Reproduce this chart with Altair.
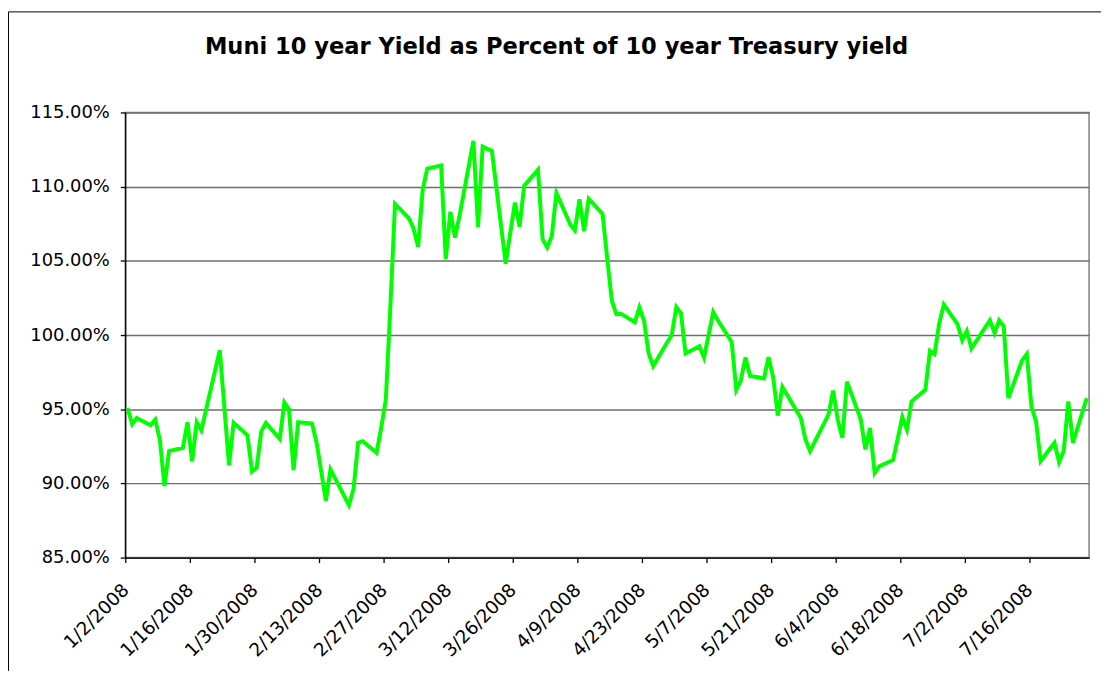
import altair as alt
import pandas as pd

title_text = "Muni 10 year Yield as Percent of 10 year Treasury yield"

dates = [
    "2008-01-02", "2008-01-03", "2008-01-04", "2008-01-07", "2008-01-08", "2008-01-09", "2008-01-10", "2008-01-11",
    "2008-01-14", "2008-01-15", "2008-01-16", "2008-01-17", "2008-01-18", "2008-01-22", "2008-01-23", "2008-01-24",
    "2008-01-25", "2008-01-28", "2008-01-29", "2008-01-30", "2008-01-31", "2008-02-01", "2008-02-04", "2008-02-05",
    "2008-02-06", "2008-02-07", "2008-02-08", "2008-02-11", "2008-02-12", "2008-02-13", "2008-02-14", "2008-02-15",
    "2008-02-19", "2008-02-20", "2008-02-21", "2008-02-22", "2008-02-25", "2008-02-26", "2008-02-27", "2008-02-28",
    "2008-02-29", "2008-03-03", "2008-03-04", "2008-03-05", "2008-03-06", "2008-03-07", "2008-03-10", "2008-03-11",
    "2008-03-12", "2008-03-13", "2008-03-14", "2008-03-17", "2008-03-18", "2008-03-19", "2008-03-20", "2008-03-21",
    "2008-03-24", "2008-03-25", "2008-03-26", "2008-03-27", "2008-03-28", "2008-03-31", "2008-04-01", "2008-04-02",
    "2008-04-03", "2008-04-04", "2008-04-07", "2008-04-08", "2008-04-09", "2008-04-10", "2008-04-11", "2008-04-14",
    "2008-04-15", "2008-04-16", "2008-04-17", "2008-04-18", "2008-04-21", "2008-04-22", "2008-04-23", "2008-04-24",
    "2008-04-25", "2008-04-28", "2008-04-29", "2008-04-30", "2008-05-01", "2008-05-02", "2008-05-05", "2008-05-06",
    "2008-05-07", "2008-05-08", "2008-05-09", "2008-05-12", "2008-05-13", "2008-05-14", "2008-05-15", "2008-05-16",
    "2008-05-19", "2008-05-20", "2008-05-21", "2008-05-22", "2008-05-23", "2008-05-27", "2008-05-28", "2008-05-29",
    "2008-05-30", "2008-06-02", "2008-06-03", "2008-06-04", "2008-06-05", "2008-06-06", "2008-06-09", "2008-06-10",
    "2008-06-11", "2008-06-12", "2008-06-13", "2008-06-16", "2008-06-17", "2008-06-18", "2008-06-19", "2008-06-20",
    "2008-06-23", "2008-06-24", "2008-06-25", "2008-06-26", "2008-06-27", "2008-06-30", "2008-07-01", "2008-07-02",
    "2008-07-03", "2008-07-07", "2008-07-08", "2008-07-09", "2008-07-10", "2008-07-11", "2008-07-14", "2008-07-15",
    "2008-07-16", "2008-07-17", "2008-07-18", "2008-07-21", "2008-07-22", "2008-07-23", "2008-07-24", "2008-07-25",
    "2008-07-28",
]

muni_pct = [
    95.08, 94.00, 94.41, 93.92, 94.30, 92.96, 89.83, 92.18,
    92.40, 94.12, 91.50, 94.12, 93.58, 98.98, 95.10, 91.22,
    94.08, 93.25, 90.80, 91.06, 93.51, 94.08, 93.00, 95.46,
    95.01, 90.90, 94.12, 94.03, 92.74, 90.80, 88.83, 90.95,
    88.54, 89.61, 92.74, 92.85, 92.07, 93.74, 95.64, 102.00,
    108.84, 107.87, 107.20, 105.94, 109.81, 111.21, 111.43, 105.12,
    108.31, 106.57, 108.07, 113.09, 107.28, 112.70, 112.55, 112.42,
    104.81, 106.90, 108.93, 107.30, 110.05, 111.14, 106.46, 105.90,
    106.68, 109.58, 107.45, 107.06, 109.14, 107.02, 109.18, 108.17,
    105.20, 102.33, 101.41, 101.44, 100.86, 101.86, 100.96, 98.76,
    97.91, 99.50, 100.00, 101.88, 101.48, 98.76, 99.25, 98.49,
    100.00, 101.55, 101.00, 99.54, 96.31, 96.97, 98.49, 97.24,
    97.08, 98.50, 97.15, 94.57, 96.50, 94.41, 92.96, 92.18,
    92.80, 94.63, 96.26, 94.30, 93.07, 96.86, 94.30, 92.29,
    93.74, 90.70, 91.15, 91.58, 93.00, 94.48, 93.63, 95.52,
    96.31, 98.94, 98.72, 100.77, 102.06, 100.72, 99.65, 100.27,
    99.10, 100.99, 100.14, 100.99, 100.59, 95.75, 98.31, 98.72,
    95.19, 94.18, 91.51, 92.74, 91.44, 92.18, 95.52, 92.74,
    95.75,
]

tick_dates = [
    "2008-01-02", "2008-01-16", "2008-01-30", "2008-02-13", "2008-02-27",
    "2008-03-12", "2008-03-26", "2008-04-09", "2008-04-23", "2008-05-07",
    "2008-05-21", "2008-06-04", "2008-06-18", "2008-07-02", "2008-07-16",
]
x_domain = ["2008-01-02", "2008-07-29"]
y_ticks = [0.85, 0.90, 0.95, 1.00, 1.05, 1.10, 1.15]


def dt(s):
    y, m, d = map(int, s.split("-"))
    return alt.DateTime(year=y, month=m, date=d)


df = pd.DataFrame({
    "date": [d + "T12:00:00" for d in dates],
    "ratio": [v / 100.0 for v in muni_pct],
})

W, H = 970, 448
PAD = {"left": 118, "top": 103, "right": 12, "bottom": 114}

line = alt.Chart(df).mark_line(color="#00FF00", strokeWidth=4).encode(
    x=alt.X(
        "date:T",
        scale=alt.Scale(domain=[dt(s) for s in x_domain]),
        axis=alt.Axis(
            values=[dt(s) for s in tick_dates],
            format="%-m/%-d/%Y",
            labelAngle=-45,
            labelAlign="right",
            labelBaseline="middle",
            labelFont="DejaVu Sans",
            labelFontSize=18.5,
            labelColor="black",
            labelPadding=24,
            labelOverlap=False,
            labelFlush=False,
            labelBound=False,
            tickSize=5,
            tickColor="black",
            tickWidth=1.3,
            domainColor="black",
            domainWidth=1.3,
            grid=False,
            title=None,
        ),
    ),
    y=alt.Y(
        "ratio:Q",
        scale=alt.Scale(domain=[0.85, 1.15], nice=False, zero=False),
        axis=alt.Axis(
            values=y_ticks,
            format=".2%",
            labelFont="DejaVu Sans",
            labelFontSize=18,
            labelColor="black",
            labelPadding=11,
            tickSize=5,
            tickColor="black",
            tickWidth=1.3,
            domainColor="black",
            domainWidth=1.3,
            grid=True,
            gridColor="#6e6e6e",
            gridWidth=1.4,
            title=None,
        ),
    ),
)

one = pd.DataFrame({"title": [title_text]})
frame_top = alt.Chart(one).mark_rule(color="black", strokeWidth=1).encode(
    x=alt.value(-117.5), x2=alt.value(W + PAD["right"]), y=alt.value(-101.2)
)
frame_left = alt.Chart(one).mark_rule(color="black", strokeWidth=1).encode(
    x=alt.value(-117.5), y=alt.value(-101.2), y2=alt.value(H + PAD["bottom"])
)
title_mark = alt.Chart(one).mark_text(
    font="DejaVu Sans", fontSize=22.7, fontWeight="bold", color="black",
    align="center", baseline="alphabetic",
).encode(
    text="title:N", x=alt.value(434), y=alt.value(-59)
)

chart = alt.layer(frame_top, frame_left, title_mark, line).properties(
    width=W,
    height=H,
    autosize=alt.AutoSizeParams(type="none"),
    padding=PAD,
    background="white",
).configure_view(stroke="#808080", strokeWidth=1.5)

chart.save("out.html", embed_options={"renderer": "svg", "actions": False})
